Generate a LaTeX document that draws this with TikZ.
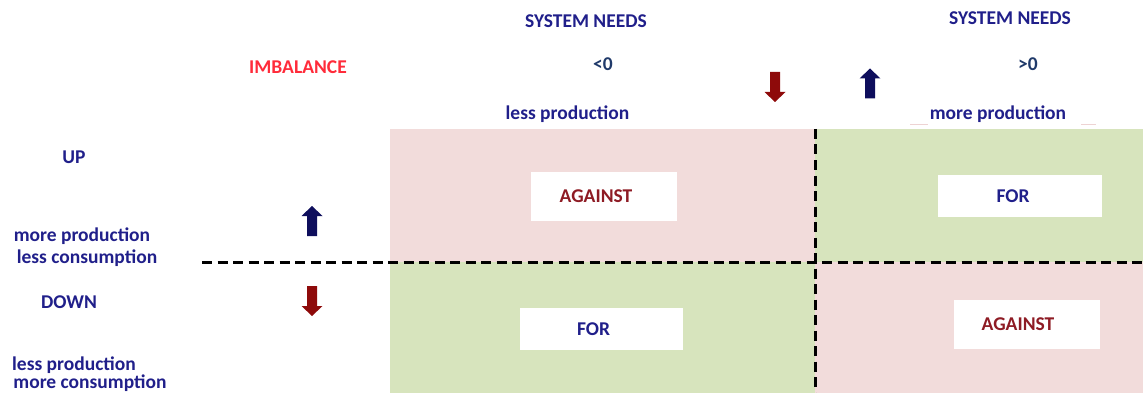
\documentclass[tikz,border=0pt]{standalone}
\usepackage{fontspec}
\setmainfont{Carlito}
\definecolor{navytext}{HTML}{201F8A}
\definecolor{slatetext}{HTML}{203A6A}
\definecolor{imbred}{HTML}{FF2B3A}
\definecolor{againstred}{HTML}{8E1B24}
\definecolor{pinkq}{HTML}{F2DCDB}
\definecolor{greenq}{HTML}{D7E4BD}
\definecolor{arrownavy}{HTML}{0E0E5C}
\definecolor{arrowred}{HTML}{8E0A0A}
\definecolor{tick}{HTML}{EED3D3}
\begin{document}
\begin{tikzpicture}[x=1pt,y=-1pt,
  lbl/.style={font=\bfseries\fontsize{19.5}{22}\selectfont, text=navytext, inner sep=0},
  slate/.style={lbl, text=slatetext},
  verdictfor/.style={lbl, text=navytext},
  verdictagainst/.style={lbl, text=againstred},
  whitebox/.style={fill=white, inner sep=0},
  divider/.style={line width=3pt, dash pattern=on 10pt off 5.5pt},
  % block arrow, 30 long, head 21 wide, shaft 10 wide
  uparrow/.pic={\fill[arrownavy] (0,-15) -- (10.5,-5) -- (5,-5) -- (5,15)
      -- (-5,15) -- (-5,-5) -- (-10.5,-5) -- cycle;},
  downarrow/.pic={\fill[arrowred] (0,15) -- (10.5,5) -- (5,5) -- (5,-15)
      -- (-5,-15) -- (-5,5) -- (-10.5,5) -- cycle;}]
\useasboundingbox (0,0) rectangle (1143,393);

% quadrant backgrounds
\fill[pinkq]  (390,129) rectangle (815,262);
\fill[greenq] (815,129) rectangle (1143,262);
\fill[greenq] (390,262) rectangle (815,393);
\fill[pinkq]  (815,262) rectangle (1143,393);

% verdict boxes
\node[whitebox, minimum width=146pt, minimum height=49pt] (tlbox) at (604,196.5) {};
\node[verdictagainst] (tltext) at ([xshift=-8pt]tlbox.center) {AGAINST};
\node[whitebox, minimum width=164pt, minimum height=42pt] (trbox) at (1020,196) {};
\node[verdictfor] (trtext) at ([xshift=-7pt]trbox.center) {FOR};
\node[whitebox, minimum width=163pt, minimum height=42pt] (blbox) at (601.5,329) {};
\node[verdictfor] (bltext) at ([xshift=-8pt]blbox.center) {FOR};
\node[whitebox, minimum width=146pt, minimum height=49pt] (brbox) at (1027,324.5) {};
\node[verdictagainst] (brtext) at ([xshift=-9pt]brbox.center) {AGAINST};

% dashed axes
\coordinate (hl) at (202,262);
\coordinate (hr) at (1143,262);
\coordinate (vt) at (815,129);
\coordinate (vb) at (815,393);
\draw[divider] (hl) -- (hr);
\draw[divider] (vt) -- (vb);

% column headings
\node[lbl] (needsl) at (586,21) {SYSTEM NEEDS};
\node[slate] (ltzero) at (603,64) {<0};
\node[lbl] (lessprod) at (567.5,114) {less production};
\node[lbl] (needsr) at (1010,18) {SYSTEM NEEDS};
\node[slate] (gtzero) at (1028,64) {>0};
\node[lbl] (moreprod) at (998,114) {more production};
\coordinate (tka) at (910,125); \coordinate (tkb) at (928,125);
\coordinate (tkc) at (1081,125); \coordinate (tkd) at (1096,125);
\draw[tick, line width=1pt] (tka) -- (tkb);
\draw[tick, line width=1pt] (tkc) -- (tkd);
\coordinate (colred) at (775,87);
\coordinate (colnavy) at (870,83.5);
\pic at (colred) {downarrow};
\pic at (colnavy) {uparrow};

% row headings
\node[lbl, text=imbred] (imbalance) at (298,67) {IMBALANCE};
\node[lbl] (up) at (74,157) {UP};
\node[lbl] (moreprodrow) at (82,236) {more production};
\node[lbl] (lesscons) at (87,258) {less consumption};
\node[lbl] (down) at (69,302) {DOWN};
\node[lbl] (lessprodrow) at (74,365) {less production};
\node[lbl] (morecons) at (90,383) {more consumption};
\coordinate (rownavy) at (312,221);
\coordinate (rowred) at (312,301);
\pic at (rownavy) {uparrow};
\pic at (rowred) {downarrow};
\end{tikzpicture}
\end{document}
